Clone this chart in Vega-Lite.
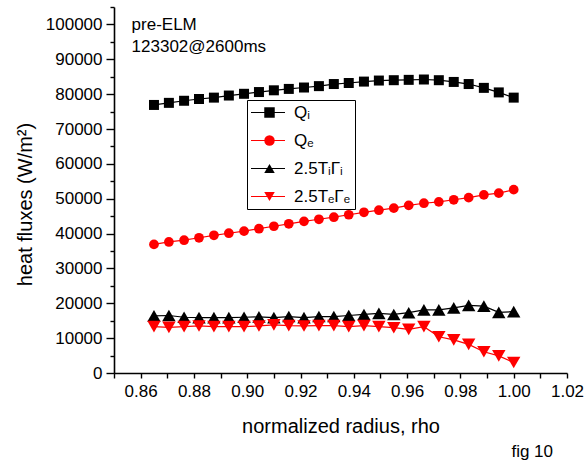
{
  "$schema": "https://vega.github.io/schema/vega-lite/v6.json",
  "autosize": "none",
  "width": 453,
  "height": 366,
  "padding": {"left": 114, "top": 7, "right": 19, "bottom": 91},
  "background": "white",
  "config": {
    "font": "Liberation Sans",
    "view": {"stroke": null},
    "axis": {
      "domainColor": "black",
      "domainWidth": 1.6,
      "tickColor": "black",
      "tickWidth": 1.4,
      "labelColor": "black",
      "titleColor": "black",
      "labelFont": "Liberation Sans",
      "titleFont": "Liberation Sans",
      "labelFontSize": 17,
      "titleFontSize": 20,
      "titleFontWeight": "normal",
      "grid": false,
      "labelOverlap": false,
      "labelFlush": false
    }
  },
  "title": {
    "text": "fig 10",
    "orient": "bottom",
    "anchor": "end",
    "frame": "group",
    "font": "Liberation Sans",
    "fontSize": 17,
    "fontWeight": "normal",
    "color": "black",
    "dx": -14,
    "offset": 8
  },
  "datasets": {
    "notes": [
      {"rho": 0.8566, "flux": 98400, "note": "pre-ELM"},
      {"rho": 0.8566, "flux": 92100, "note": "123302@2600ms"}
    ]
  },
  "data": {
    "values": [
      {"rho": 0.865, "series": "Qᵢ", "flux": 76900},
      {"rho": 0.8706, "series": "Qᵢ", "flux": 77500},
      {"rho": 0.8763, "series": "Qᵢ", "flux": 78100},
      {"rho": 0.8819, "series": "Qᵢ", "flux": 78600},
      {"rho": 0.8875, "series": "Qᵢ", "flux": 79000},
      {"rho": 0.8931, "series": "Qᵢ", "flux": 79600},
      {"rho": 0.8988, "series": "Qᵢ", "flux": 80100},
      {"rho": 0.9044, "series": "Qᵢ", "flux": 80600},
      {"rho": 0.91, "series": "Qᵢ", "flux": 81100},
      {"rho": 0.9156, "series": "Qᵢ", "flux": 81500},
      {"rho": 0.9213, "series": "Qᵢ", "flux": 81900},
      {"rho": 0.9269, "series": "Qᵢ", "flux": 82300},
      {"rho": 0.9325, "series": "Qᵢ", "flux": 82900},
      {"rho": 0.9381, "series": "Qᵢ", "flux": 83200},
      {"rho": 0.9438, "series": "Qᵢ", "flux": 83600},
      {"rho": 0.9494, "series": "Qᵢ", "flux": 83900},
      {"rho": 0.955, "series": "Qᵢ", "flux": 84000},
      {"rho": 0.9606, "series": "Qᵢ", "flux": 84100},
      {"rho": 0.9663, "series": "Qᵢ", "flux": 84200},
      {"rho": 0.9719, "series": "Qᵢ", "flux": 84000},
      {"rho": 0.9775, "series": "Qᵢ", "flux": 83500},
      {"rho": 0.9831, "series": "Qᵢ", "flux": 82900},
      {"rho": 0.9888, "series": "Qᵢ", "flux": 81800},
      {"rho": 0.9944, "series": "Qᵢ", "flux": 80500},
      {"rho": 1.0, "series": "Qᵢ", "flux": 79000},
      {"rho": 0.865, "series": "Qₑ", "flux": 36900},
      {"rho": 0.8706, "series": "Qₑ", "flux": 37600},
      {"rho": 0.8763, "series": "Qₑ", "flux": 38100},
      {"rho": 0.8819, "series": "Qₑ", "flux": 38800},
      {"rho": 0.8875, "series": "Qₑ", "flux": 39500},
      {"rho": 0.8931, "series": "Qₑ", "flux": 40100},
      {"rho": 0.8988, "series": "Qₑ", "flux": 40700},
      {"rho": 0.9044, "series": "Qₑ", "flux": 41400},
      {"rho": 0.91, "series": "Qₑ", "flux": 42100},
      {"rho": 0.9156, "series": "Qₑ", "flux": 42800},
      {"rho": 0.9213, "series": "Qₑ", "flux": 43500},
      {"rho": 0.9269, "series": "Qₑ", "flux": 44100},
      {"rho": 0.9325, "series": "Qₑ", "flux": 44700},
      {"rho": 0.9381, "series": "Qₑ", "flux": 45400},
      {"rho": 0.9438, "series": "Qₑ", "flux": 46100},
      {"rho": 0.9494, "series": "Qₑ", "flux": 46700},
      {"rho": 0.955, "series": "Qₑ", "flux": 47300},
      {"rho": 0.9606, "series": "Qₑ", "flux": 48100},
      {"rho": 0.9663, "series": "Qₑ", "flux": 48700},
      {"rho": 0.9719, "series": "Qₑ", "flux": 49100},
      {"rho": 0.9775, "series": "Qₑ", "flux": 49700},
      {"rho": 0.9831, "series": "Qₑ", "flux": 50300},
      {"rho": 0.9888, "series": "Qₑ", "flux": 51100},
      {"rho": 0.9944, "series": "Qₑ", "flux": 51600},
      {"rho": 1.0, "series": "Qₑ", "flux": 52600},
      {"rho": 0.865, "series": "2.5TᵢΓᵢ", "flux": 16400},
      {"rho": 0.8706, "series": "2.5TᵢΓᵢ", "flux": 16500},
      {"rho": 0.8763, "series": "2.5TᵢΓᵢ", "flux": 16000},
      {"rho": 0.8819, "series": "2.5TᵢΓᵢ", "flux": 15900},
      {"rho": 0.8875, "series": "2.5TᵢΓᵢ", "flux": 15900},
      {"rho": 0.8931, "series": "2.5TᵢΓᵢ", "flux": 15900},
      {"rho": 0.8988, "series": "2.5TᵢΓᵢ", "flux": 16000},
      {"rho": 0.9044, "series": "2.5TᵢΓᵢ", "flux": 16100},
      {"rho": 0.91, "series": "2.5TᵢΓᵢ", "flux": 15900},
      {"rho": 0.9156, "series": "2.5TᵢΓᵢ", "flux": 16200},
      {"rho": 0.9213, "series": "2.5TᵢΓᵢ", "flux": 15900},
      {"rho": 0.9269, "series": "2.5TᵢΓᵢ", "flux": 16200},
      {"rho": 0.9325, "series": "2.5TᵢΓᵢ", "flux": 16200},
      {"rho": 0.9381, "series": "2.5TᵢΓᵢ", "flux": 16500},
      {"rho": 0.9438, "series": "2.5TᵢΓᵢ", "flux": 16800},
      {"rho": 0.9494, "series": "2.5TᵢΓᵢ", "flux": 17100},
      {"rho": 0.955, "series": "2.5TᵢΓᵢ", "flux": 16800},
      {"rho": 0.9606, "series": "2.5TᵢΓᵢ", "flux": 17300},
      {"rho": 0.9663, "series": "2.5TᵢΓᵢ", "flux": 18100},
      {"rho": 0.9719, "series": "2.5TᵢΓᵢ", "flux": 18100},
      {"rho": 0.9775, "series": "2.5TᵢΓᵢ", "flux": 18700},
      {"rho": 0.9831, "series": "2.5TᵢΓᵢ", "flux": 19400},
      {"rho": 0.9888, "series": "2.5TᵢΓᵢ", "flux": 19200},
      {"rho": 0.9944, "series": "2.5TᵢΓᵢ", "flux": 17400},
      {"rho": 1.0, "series": "2.5TᵢΓᵢ", "flux": 17600},
      {"rho": 0.865, "series": "2.5TₑΓₑ", "flux": 13300},
      {"rho": 0.8706, "series": "2.5TₑΓₑ", "flux": 13100},
      {"rho": 0.8763, "series": "2.5TₑΓₑ", "flux": 13300},
      {"rho": 0.8819, "series": "2.5TₑΓₑ", "flux": 13500},
      {"rho": 0.8875, "series": "2.5TₑΓₑ", "flux": 13300},
      {"rho": 0.8931, "series": "2.5TₑΓₑ", "flux": 13300},
      {"rho": 0.8988, "series": "2.5TₑΓₑ", "flux": 13300},
      {"rho": 0.9044, "series": "2.5TₑΓₑ", "flux": 13500},
      {"rho": 0.91, "series": "2.5TₑΓₑ", "flux": 13800},
      {"rho": 0.9156, "series": "2.5TₑΓₑ", "flux": 13600},
      {"rho": 0.9213, "series": "2.5TₑΓₑ", "flux": 13500},
      {"rho": 0.9269, "series": "2.5TₑΓₑ", "flux": 13600},
      {"rho": 0.9325, "series": "2.5TₑΓₑ", "flux": 13600},
      {"rho": 0.9381, "series": "2.5TₑΓₑ", "flux": 13300},
      {"rho": 0.9438, "series": "2.5TₑΓₑ", "flux": 13600},
      {"rho": 0.9494, "series": "2.5TₑΓₑ", "flux": 13300},
      {"rho": 0.955, "series": "2.5TₑΓₑ", "flux": 13000},
      {"rho": 0.9606, "series": "2.5TₑΓₑ", "flux": 12500},
      {"rho": 0.9663, "series": "2.5TₑΓₑ", "flux": 13300},
      {"rho": 0.9719, "series": "2.5TₑΓₑ", "flux": 10400},
      {"rho": 0.9775, "series": "2.5TₑΓₑ", "flux": 9500},
      {"rho": 0.9831, "series": "2.5TₑΓₑ", "flux": 8200},
      {"rho": 0.9888, "series": "2.5TₑΓₑ", "flux": 6100},
      {"rho": 0.9944, "series": "2.5TₑΓₑ", "flux": 4900},
      {"rho": 1.0, "series": "2.5TₑΓₑ", "flux": 3000}
    ]
  },
  "encoding": {
    "x": {
      "field": "rho",
      "type": "quantitative",
      "scale": {"domain": [0.85, 1.02], "nice": false, "zero": false},
      "axis": {
        "title": "normalized radius, rho",
        "values": [0.85, 0.86, 0.87, 0.88, 0.89, 0.9, 0.91, 0.92, 0.93, 0.94, 0.95, 0.96, 0.97, 0.98, 0.99, 1.0, 1.01, 1.02],
        "labelExpr": "round(datum.value * 100) % 2 == 0 ? format(datum.value, '.2f') : ''",
        "tickSize": 5,
        "labelPadding": 5,
        "titlePadding": 17
      }
    },
    "y": {
      "field": "flux",
      "type": "quantitative",
      "scale": {"domain": [0, 105000], "nice": false},
      "axis": {
        "title": "heat fluxes (W/m²)",
        "format": "d",
        "values": [0, 5000, 10000, 15000, 20000, 25000, 30000, 35000, 40000, 45000, 50000, 55000, 60000, 65000, 70000, 75000, 80000, 85000, 90000, 95000, 100000, 105000],
        "labelExpr": "datum.value % 10000 == 0 ? datum.label : ''",
        "tickSize": {"condition": {"test": "datum.value % 10000 == 0", "value": 8}, "value": 4},
        "labelPadding": 4,
        "titlePadding": 10,
        "titleAlign": "center",
        "titleY": 197
      }
    }
  },
  "layer": [
    {
      "mark": {"type": "line", "strokeWidth": 1.2},
      "encoding": {
        "color": {
          "field": "series",
          "type": "nominal",
          "sort": ["Qᵢ", "Qₑ", "2.5TᵢΓᵢ", "2.5TₑΓₑ"],
          "scale": {"range": ["#000000", "#ff0000", "#000000", "#ff0000"]},
          "legend": {
            "title": null,
            "orient": "none",
            "legendX": 133,
            "legendY": 93,
            "direction": "vertical",
            "strokeColor": "black",
            "padding": 4,
            "symbolType": "stroke",
            "symbolSize": 1156,
            "symbolStrokeWidth": 1.2,
            "symbolOffset": -1,
            "labelOffset": 8,
            "clipHeight": 17,
            "rowPadding": 10,
            "labelFont": "Liberation Sans",
            "labelFontSize": 17,
            "labelColor": "black",
            "labelLimit": 0
          }
        }
      }
    },
    {
      "mark": {"type": "point", "filled": true, "opacity": 1, "strokeWidth": 0},
      "encoding": {
        "fill": {
          "field": "series",
          "type": "nominal",
          "scale": {"domain": ["Qᵢ", "Qₑ", "2.5TᵢΓᵢ", "2.5TₑΓₑ"], "range": ["#000000", "#ff0000", "#000000", "#ff0000"]},
          "legend": {
            "title": null,
            "orient": "none",
            "legendX": 133,
            "legendY": 93,
            "direction": "vertical",
            "padding": 4,
            "symbolSize": 110,
            "symbolOffset": 10,
            "labelOffset": 8,
            "clipHeight": 17,
            "rowPadding": 10,
            "labelFont": "Liberation Sans",
            "labelFontSize": 17,
            "labelOpacity": 0,
            "labelLimit": 0
          }
        },
        "shape": {
          "field": "series",
          "type": "nominal",
          "scale": {"domain": ["Qᵢ", "Qₑ", "2.5TᵢΓᵢ", "2.5TₑΓₑ"], "range": ["square", "circle", "triangle-up", "triangle-down"]},
          "legend": {
            "title": null,
            "orient": "none",
            "legendX": 133,
            "legendY": 93,
            "direction": "vertical",
            "padding": 4,
            "symbolSize": 110,
            "symbolOffset": 10,
            "labelOffset": 8,
            "clipHeight": 17,
            "rowPadding": 10,
            "labelFont": "Liberation Sans",
            "labelFontSize": 17,
            "labelOpacity": 0,
            "labelLimit": 0
          }
        },
        "size": {
          "condition": [
            {"test": "datum.series == 'Qₑ'", "value": 95},
            {"test": "datum.series == '2.5TᵢΓᵢ' || datum.series == '2.5TₑΓₑ'", "value": 180}
          ],
          "value": 100
        }
      }
    },
    {
      "data": {"name": "notes"},
      "mark": {"type": "text", "align": "left", "baseline": "alphabetic", "font": "Liberation Sans", "fontSize": 17, "color": "black"},
      "encoding": {
        "text": {"field": "note"}
      }
    }
  ]
}
